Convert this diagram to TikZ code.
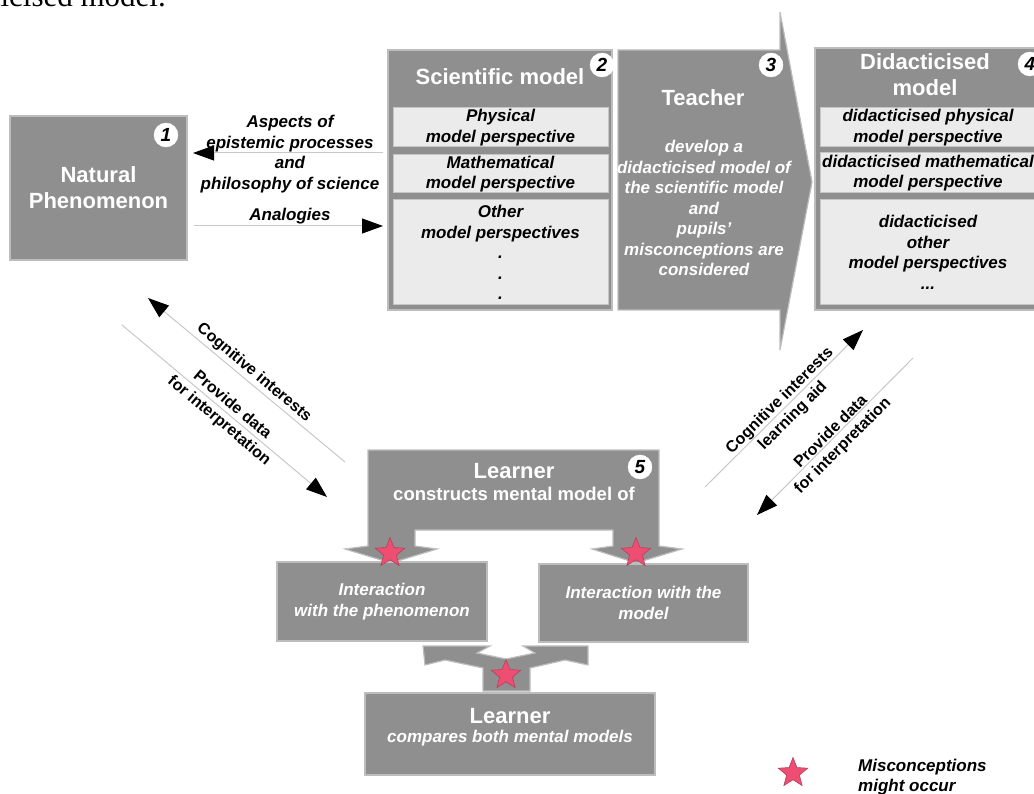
\documentclass[tikz,border=0pt]{standalone}
\usepackage{fontspec}
\setmainfont{Liberation Sans}
\newfontfamily\serifpage{Liberation Serif}
\usetikzlibrary{arrows.meta,shapes.geometric}
\definecolor{boxgray}{HTML}{8F8F8F}
\definecolor{edgegray}{HTML}{BDBDBD}
\definecolor{innerfill}{HTML}{EBEBEB}
\definecolor{inneredge}{HTML}{C6C6C6}
\definecolor{linegray}{HTML}{C8C8C8}
\definecolor{starpink}{HTML}{EE4E72}
\definecolor{stardark}{HTML}{B5405C}
\newcommand\dgTitle{\bfseries\fontsize{22}{26}\selectfont}
\newcommand\dgSub{\bfseries\fontsize{18.5}{22}\selectfont}
\newcommand\dgLbl{\bfseries\itshape\fontsize{17}{20.5}\selectfont}
\newcommand\dgDiag{\bfseries\fontsize{16}{20}\selectfont}
\newcommand\dgNum{\bfseries\itshape\fontsize{19}{19}\selectfont}
\begin{document}
\begin{tikzpicture}[x=1pt,y=-1pt,
  graybox/.style={rectangle,fill=boxgray,draw=edgegray,line width=1.2pt,inner sep=0pt},
  shapefill/.style={fill=boxgray,draw=edgegray,line width=1.2pt,line join=miter},
  innerbox/.style={rectangle,fill=innerfill,draw=inneredge,line width=1pt,inner sep=0pt,align=center,font=\dgLbl},
  title/.style={text=white,font=\dgTitle,align=center,inner sep=0pt},
  subtitle/.style={text=white,font=\dgSub,align=center,inner sep=0pt},
  wlabel/.style={text=white,font=\dgLbl,align=center,inner sep=0pt},
  blabel/.style={text=black,font=\dgLbl,align=center,inner sep=0pt},
  dlabel/.style={text=black,font=\dgDiag,align=center,inner sep=0pt},
  numcircle/.style={circle,fill=white,draw=white,minimum size=24pt,inner sep=0pt,font=\dgNum},
  conn/.style={draw=linegray,line width=1pt,-{Triangle[length=21pt,width=15pt,color=black]}},
  misstar/.style={star,star points=5,star point ratio=2.3,minimum size=31pt,inner sep=0pt,fill=starpink,draw=stardark,line width=0.6pt}
]
\useasboundingbox (0,0) rectangle (1034,794);
\clip (0,0) rectangle (1034,794);

% fragment of page text
\node[anchor=base east,inner sep=0pt,font=\serifpage\fontsize{31}{31}\selectfont] (frag) at (166,7) {didacticised model.};

% 1 Natural phenomenon
\node[graybox,minimum width=177pt,minimum height=144pt,text=white,font=\dgTitle,align=center] (nat) at (98.5,188) {Natural\\Phenomenon};
\node[numcircle] (n1) at (166,135) {1};

% 2 Scientific model
\node[graybox,minimum width=224pt,minimum height=260pt] (sci) at (500,180) {};
\node[title] (scit) at (500,77) {Scientific model};
\node[numcircle] (n2) at (602,65) {2};
\node[innerbox,minimum width=215pt,minimum height=39pt] (phys) at (500.5,127.5) {Physical\\model perspective};
\node[innerbox,minimum width=215pt,minimum height=38pt] (math) at (500.5,174) {Mathematical\\model perspective};
\node[innerbox,minimum width=215pt,minimum height=105pt] (other) at (500.5,252.5) {Other\\model perspectives\\.\\.\\.};

% 3 Teacher arrow
\path[shapefill] (618,50) -- (780,50) -- (780,12) -- (812,182) -- (780,350) -- (780,310) -- (618,310) -- cycle;
\node[title] (teach) at (703,98) {Teacher};
\node[numcircle] (n3) at (771,65) {3};
\node[wlabel] (teachtxt) at (704,208) {develop a\\didacticised model of\\the scientific model\\and\\pupils'\\misconceptions are\\considered};

% 4 Didacticised model
\node[graybox,minimum width=226pt,minimum height=262pt] (did) at (928,179) {};
\node[title] (didt) at (925,75) {Didacticised\\model};
\node[numcircle] (n4) at (1030,64) {4};
\node[innerbox,minimum width=216pt,minimum height=39pt] (dphys) at (928,127.5) {didacticised physical\\model perspective};
\node[innerbox,minimum width=216pt,minimum height=40pt] (dmath) at (928,173) {didacticised mathematical\\model perspective};
\node[innerbox,minimum width=216pt,minimum height=105pt] (dother) at (928,252.5) {didacticised\\other\\model perspectives\\...};

% arrows between 1 and 2
\node[blabel] (asp) at (290,154) {Aspects of\\epistemic processes\\and\\philosophy of science};
\node[blabel] (ana) at (290,216) {Analogies};
\coordinate (aL1) at (383,153);
\coordinate (aL2) at (193,153);
\coordinate (aR1) at (194,226);
\coordinate (aR2) at (383,226);
\draw[conn] (aL1) -- (aL2);
\draw[conn] (aR1) -- (aR2);

% left diagonal arrows
\coordinate (dA1) at (345,462);
\coordinate (dA2) at (148,298);
\coordinate (dB1) at (122,325);
\coordinate (dB2) at (327,497);
\draw[conn] (dA1) -- (dA2);
\draw[conn] (dB1) -- (dB2);
\node[dlabel,rotate=-40] (cogL) at (254,373) {Cognitive interests};
\node[dlabel,rotate=-40] (provL1) at (233,404) {Provide data};
\node[dlabel,rotate=-40] (provL2) at (219,421) {for interpretation};

% right diagonal arrows
\coordinate (dC1) at (705,487);
\coordinate (dC2) at (863,330);
\coordinate (dD1) at (913,358);
\coordinate (dD2) at (757,515);
\draw[conn] (dC1) -- (dC2);
\draw[conn] (dD1) -- (dD2);
\node[dlabel,rotate=45] (cogR1) at (780,401) {Cognitive interests};
\node[dlabel,rotate=45] (cogR2) at (793,416) {learning aid};
\node[dlabel,rotate=45] (provR1) at (830,431) {Provide data};
\node[dlabel,rotate=45] (provR2) at (843,446) {for interpretation};

% 5 Learner constructs
\path[shapefill] (368,450) -- (659,450) -- (659,546) -- (682,549) -- (636,563) -- (592,549) -- (613,546) -- (613,530) -- (415,530) -- (415,546) -- (437,549) -- (391,563) -- (345,549) -- (368,546) -- cycle;
\node[title] (learn1) at (514,471) {Learner};
\node[subtitle] (learn1s) at (514,494) {constructs mental model of};
\node[numcircle] (n5) at (640,467) {5};

% interaction boxes
\node[graybox,minimum width=210pt,minimum height=79pt,text=white,font=\dgLbl,align=center] (intP) at (382,601.5) {Interaction\\with the phenomenon};
\node[graybox,minimum width=209pt,minimum height=78pt,text=white,font=\dgLbl,align=center] (intM) at (643.5,603) {Interaction with the\\model};

% merging arrow
\path[shapefill] (423,646) -- (490,646) -- (477,653) -- (506,659) -- (535,653) -- (523,646) -- (588,646) -- (588,665) -- (565,660) -- (530,668) -- (530,691) -- (483,691) -- (483,668) -- (445,660) -- (425,665) -- cycle;

% Learner compares
\node[graybox,minimum width=290pt,minimum height=82pt] (learn2) at (510,734) {};
\node[title] (learn2t) at (510,716) {Learner};
\node[wlabel] (learn2s) at (510,738) {compares both mental models};

% stars
\node[misstar] (s1) at (390,553) {};
\node[misstar] (s2) at (636,553) {};
\node[misstar] (s3) at (506,675) {};
\node[misstar] (s4) at (793,773) {};
\node[blabel,anchor=west,align=left] (leg) at (858,777) {Misconceptions\\might occur};
\end{tikzpicture}
\end{document}
